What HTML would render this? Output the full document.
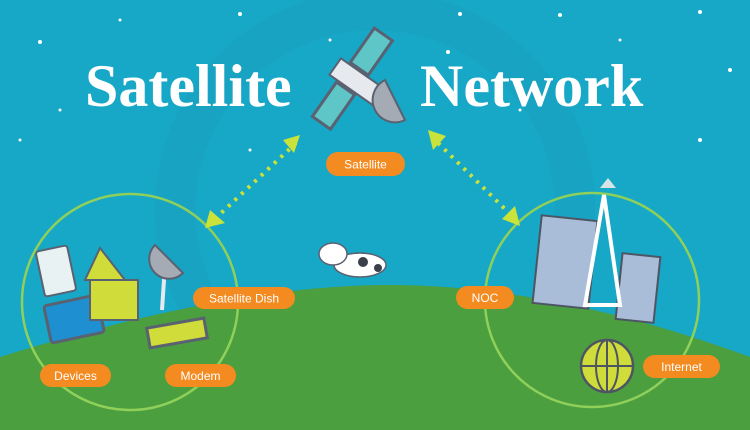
<!DOCTYPE html>
<html><head><meta charset="utf-8"><style>
html,body{margin:0;padding:0;background:#17a7c7;}
svg{display:block}
.pill{fill:#f38b21}
.pt{font-family:"Liberation Sans",sans-serif;font-size:12px;fill:#fff;text-anchor:middle}
</style></head><body>
<svg width="750" height="430" viewBox="0 0 750 430" xmlns="http://www.w3.org/2000/svg">
<rect width="750" height="430" fill="#17a7c7"/>
<circle cx="375" cy="210" r="200" fill="none" stroke="#1aa0bf" stroke-width="40" opacity="0.5"/>
<g fill="#fff">
<circle cx="40" cy="42" r="2"/><circle cx="120" cy="20" r="1.5"/><circle cx="240" cy="14" r="2"/><circle cx="330" cy="40" r="1.5"/><circle cx="448" cy="52" r="2"/><circle cx="460" cy="14" r="2"/><circle cx="560" cy="15" r="2"/><circle cx="620" cy="40" r="1.5"/><circle cx="700" cy="12" r="2"/><circle cx="730" cy="70" r="2"/><circle cx="20" cy="140" r="1.5"/><circle cx="700" cy="140" r="2"/><circle cx="60" cy="110" r="1.5"/><circle cx="250" cy="150" r="1.5"/><circle cx="520" cy="110" r="1.5"/>
</g>
<path d="M0 357 C120 320 260 285 390 285 C520 285 650 320 750 357 L750 430 L0 430 Z" fill="#4b9f3f"/>
<circle cx="130" cy="302" r="108" fill="none" stroke="#8fd05a" stroke-width="2.5"/>
<circle cx="592" cy="300" r="107" fill="none" stroke="#8fd05a" stroke-width="2.5"/>
<text x="85" y="106" font-family="Liberation Serif,serif" font-weight="bold" font-size="60" fill="#fff">Satellite</text>
<text x="420" y="106" font-family="Liberation Serif,serif" font-weight="bold" font-size="60" fill="#fff">Network</text>
<!-- satellite -->
<g transform="translate(365,85) rotate(35)">
<rect x="-35" y="-8" width="55" height="20" fill="#e6e9ee" stroke="#5a6170" stroke-width="2"/>
<rect x="-25" y="-52" width="22" height="42" fill="#5fc6c8" stroke="#5a6170" stroke-width="3"/>
<rect x="-25" y="14" width="22" height="42" fill="#5fc6c8" stroke="#5a6170" stroke-width="3"/>
</g>
<path d="M385 80 a22 22 0 0 0 20 40 z" fill="#a4abb5" stroke="#5a6170" stroke-width="2"/>
<!-- dotted connectors -->
<line x1="296" y1="143" x2="218" y2="216" stroke="#c9e33a" stroke-width="4" stroke-dasharray="3 6"/>
<polygon points="283,140 300,135 294,153" fill="#c9e33a"/>
<polygon points="205,228 210,210 225,223" fill="#c9e33a"/>
<line x1="438" y1="143" x2="508" y2="212" stroke="#c9e33a" stroke-width="4" stroke-dasharray="3 6"/>
<polygon points="428,130 446,136 433,150" fill="#c9e33a"/>
<polygon points="520,226 502,219 515,206" fill="#c9e33a"/>
<!-- left devices -->
<rect x="40" y="248" width="32" height="46" rx="3" fill="#e8f2f2" stroke="#5a6170" stroke-width="2" transform="rotate(-12 56 271)"/>
<rect x="47" y="300" width="54" height="38" rx="3" fill="#1e8fd0" stroke="#5a6170" stroke-width="3" transform="rotate(-12 74 319)"/>
<polygon points="85,280 100,248 125,280" fill="#cfdc3a" stroke="#5a6170" stroke-width="2"/>
<rect x="90" y="280" width="48" height="40" fill="#cfdc3a" stroke="#5a6170" stroke-width="2"/>
<line x1="165" y1="265" x2="162" y2="310" stroke="#e6e9ee" stroke-width="4"/>
<path d="M155 245 a18 18 0 0 0 28 28 z" fill="#a4abb5" stroke="#5a6170" stroke-width="2"/>
<rect x="148" y="323" width="58" height="20" fill="#cfdc3a" stroke="#5a6170" stroke-width="3" transform="rotate(-10 177 333)"/>
<!-- dog -->
<ellipse cx="360" cy="265" rx="26" ry="12" fill="#fff" stroke="#5a6170" stroke-width="1.5"/>
<ellipse cx="333" cy="254" rx="14" ry="11" fill="#fff" stroke="#5a6170" stroke-width="1.5"/>
<circle cx="363" cy="262" r="5" fill="#3a3f4a"/><circle cx="378" cy="268" r="4" fill="#3a3f4a"/>
<!-- buildings -->
<rect x="537" y="218" width="56" height="88" fill="#a9bcd8" stroke="#4d5563" stroke-width="2" transform="rotate(6 565 262)"/>
<rect x="619" y="255" width="38" height="66" fill="#a9bcd8" stroke="#4d5563" stroke-width="2" transform="rotate(6 638 288)"/>
<polygon points="604,195 585,305 620,305" fill="none" stroke="#fff" stroke-width="4"/>
<path d="M600 188 l8 -10 l8 10 z" fill="#d8e4e4"/>
<circle cx="607" cy="366" r="26" fill="#cfdc3a" stroke="#4d5563" stroke-width="2.5"/>
<ellipse cx="607" cy="366" rx="11" ry="26" fill="none" stroke="#4d5563" stroke-width="2"/>
<line x1="581" y1="366" x2="633" y2="366" stroke="#4d5563" stroke-width="2"/>
<line x1="607" y1="340" x2="607" y2="392" stroke="#4d5563" stroke-width="2"/>
<!-- pills -->
<rect class="pill" x="326" y="152" width="79" height="24" rx="12"/><text class="pt" x="365.5" y="168.5">Satellite</text>
<rect class="pill" x="193" y="287" width="102" height="22" rx="11"/><text class="pt" x="244" y="302.5">Satellite Dish</text>
<rect class="pill" x="456" y="286" width="58" height="23" rx="11.5"/><text class="pt" x="485" y="302">NOC</text>
<rect class="pill" x="40" y="364" width="71" height="23" rx="11.5"/><text class="pt" x="75.5" y="380">Devices</text>
<rect class="pill" x="165" y="364" width="71" height="23" rx="11.5"/><text class="pt" x="200.5" y="380">Modem</text>
<rect class="pill" x="643" y="355" width="77" height="23" rx="11.5"/><text class="pt" x="681.5" y="371">Internet</text>
</svg>
</body></html>
